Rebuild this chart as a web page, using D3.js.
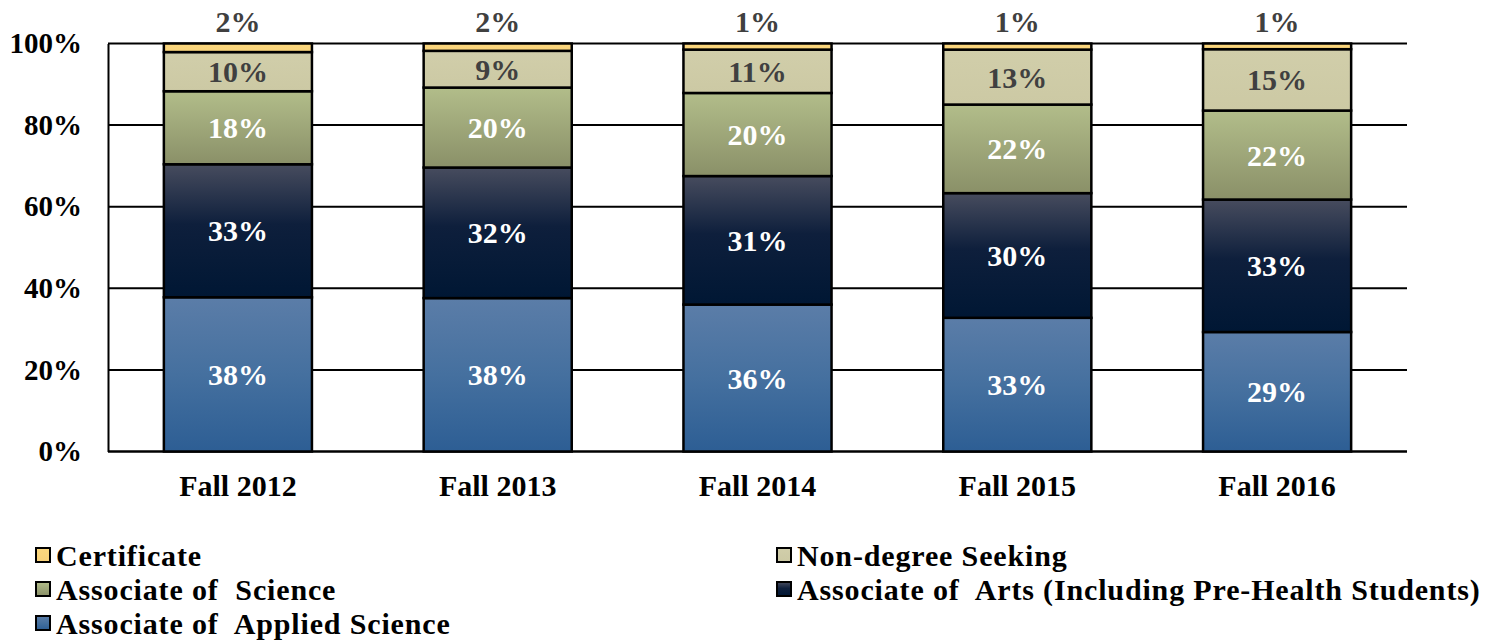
<!DOCTYPE html>
<html>
<head>
<meta charset="utf-8">
<script src="https://cdn.jsdelivr.net/npm/d3@7"></script>
<style>
  html, body { margin: 0; padding: 0; background: #fff; }
  svg { display: block; font-family: "Liberation Serif", "Times New Roman", serif; font-weight: bold; }
</style>
</head>
<body>
<svg id="chart" width="1496" height="643"></svg>
<script>
// ---- data ----
const categories = ["Fall 2012", "Fall 2013", "Fall 2014", "Fall 2015", "Fall 2016"];
const assocApplied = [37.8, 37.6, 35.9, 32.6, 29.4];
const assocArts    = [32.6, 32.0, 31.4, 30.4, 32.6];
const assocScience = [17.9, 19.6, 20.3, 21.6, 21.9];
const nonDegree    = [9.6, 9.0, 10.6, 13.4, 15.1];
const certificate  = [2.1, 1.8, 1.49, 1.49, 1.4];
const yTicks = [0, 20, 40, 60, 80, 100];
const seriesKeys = ["assocApplied", "assocArts", "assocScience", "nonDegree", "certificate"];
const seriesNames = {
  certificate: "Certificate",
  nonDegree: "Non-degree Seeking",
  assocScience: "Associate of  Science",
  assocArts: "Associate of  Arts (Including Pre-Health Students)",
  assocApplied: "Associate of  Applied Science"
};

const rows = categories.map((c, i) => ({
  cat: c,
  assocApplied: assocApplied[i],
  assocArts: assocArts[i],
  assocScience: assocScience[i],
  nonDegree: nonDegree[i],
  certificate: certificate[i]
}));

const svg = d3.select("#chart");
const mLeft = 108, mRight = 1407, mTop = 43.5, mBottom = 451.5;

const x = d3.scaleBand().domain(categories).range([mLeft, mRight]).paddingInner(0.43).paddingOuter(0.215);
const y = d3.scaleLinear().domain([0, 1]).range([mBottom, mTop]);

// gradients
const defs = svg.append("defs");
function grad(id, stops) {
  const g = defs.append("linearGradient").attr("id", id).attr("x1", 0).attr("y1", 0).attr("x2", 0).attr("y2", 1);
  stops.forEach(s => g.append("stop").attr("offset", s[0]).attr("stop-color", s[1]));
}
grad("g-applied", [[0, "#5B7DA8"], [0.5, "#45709F"], [1, "#2D5E94"]]);
grad("g-arts", [[0, "#474C5E"], [0.45, "#0E1F3C"], [1, "#001734"]]);
grad("g-science", [[0, "#B2BD8A"], [1, "#8A9068"]]);
grad("g-nondeg", [[0, "#D1CEAA"], [1, "#CCC9A4"]]);
grad("g-cert", [[0, "#FCD87E"], [1, "#F8D27A"]]);
const fills = {
  assocApplied: "url(#g-applied)",
  assocArts: "url(#g-arts)",
  assocScience: "url(#g-science)",
  nonDegree: "url(#g-nondeg)",
  certificate: "url(#g-cert)"
};
const labelColors = {
  assocApplied: "#ffffff",
  assocArts: "#ffffff",
  assocScience: "#ffffff",
  nonDegree: "#404040",
  certificate: "#404040"
};

// gridlines
svg.append("g").selectAll("line").data(yTicks.filter(t => t > 0)).join("line")
  .attr("x1", mLeft).attr("x2", mRight)
  .attr("y1", d => y(d / 100)).attr("y2", d => y(d / 100))
  .attr("stroke", "#000").attr("stroke-width", 2);

// y axis
const yAxis = svg.append("g").attr("transform", `translate(${mLeft},0)`)
  .call(d3.axisLeft(y).tickValues(yTicks.map(t => t / 100)).tickFormat(d => Math.round(d * 100) + "%").tickSize(0).tickPadding(26));
yAxis.select(".domain").attr("stroke", "#000").attr("stroke-width", 2);
yAxis.selectAll("text").attr("font-size", 29).attr("font-family", "Liberation Serif").attr("font-weight", "bold").attr("fill", "#000");

// x axis
const xAxis = svg.append("g").attr("transform", `translate(0,${mBottom})`)
  .call(d3.axisBottom(x).tickSize(0).tickPadding(23));
xAxis.select(".domain").attr("stroke", "#000").attr("stroke-width", 2.5).attr("d", `M${mLeft},0H${mRight}`);
xAxis.selectAll("text").attr("font-size", 30).attr("font-family", "Liberation Serif").attr("font-weight", "bold").attr("fill", "#000");

// bars (100% stacked)
const stack = d3.stack().keys(seriesKeys).offset(d3.stackOffsetExpand);
const stacked = stack(rows);
const layers = svg.append("g").selectAll("g").data(stacked).join("g");
layers.selectAll("rect").data(d => d.map(p => ({ key: d.key, p }))).join("rect")
  .attr("x", d => x(d.p.data.cat))
  .attr("width", x.bandwidth())
  .attr("y", d => y(d.p[1]))
  .attr("height", d => y(d.p[0]) - y(d.p[1]))
  .attr("fill", d => fills[d.key])
  .attr("stroke", "#000").attr("stroke-width", 2.5);

// labels
const labels = svg.append("g");
stacked.forEach(layer => {
  layer.forEach(p => {
    const v = p.data[layer.key];
    const cx = x(p.data.cat) + x.bandwidth() / 2;
    const cy = layer.key === "certificate" ? y(1) - 22 : (y(p[0]) + y(p[1])) / 2;
    labels.append("text")
      .attr("x", cx).attr("y", cy)
      .attr("text-anchor", "middle").attr("dominant-baseline", "central")
      .attr("font-size", 30)
      .attr("fill", labelColors[layer.key])
      .text(Math.round(v) + "%");
  });
});

// legend
const legendItems = [
  { key: "certificate", x: 36, y: 555 },
  { key: "nonDegree", x: 777, y: 555 },
  { key: "assocScience", x: 36, y: 589 },
  { key: "assocArts", x: 777, y: 589 },
  { key: "assocApplied", x: 36, y: 623 }
];
const lg = svg.append("g").selectAll("g").data(legendItems).join("g")
  .attr("transform", d => `translate(${d.x},${d.y})`);
lg.append("rect").attr("x", 0).attr("y", -7).attr("width", 14).attr("height", 14)
  .attr("fill", d => fills[d.key]).attr("stroke", "#000").attr("stroke-width", 2);
lg.append("text").attr("x", 20).attr("y", 0).attr("dominant-baseline", "central")
  .attr("font-size", 30).attr("fill", "#000").attr("letter-spacing", 0.85)
  .style("white-space", "pre")
  .text(d => seriesNames[d.key]);
</script>
</body>
</html>
